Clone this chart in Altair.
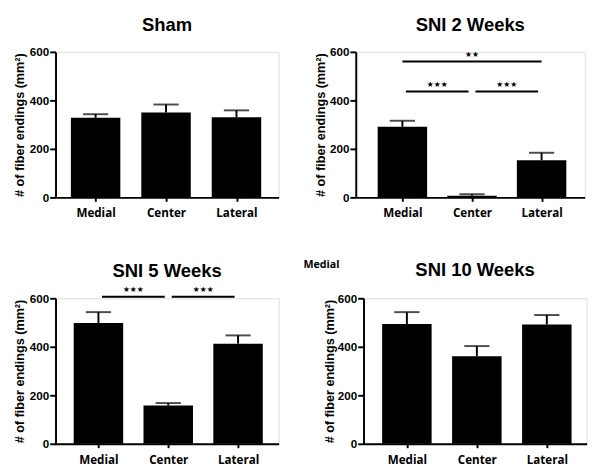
import json
import altair as alt
import pandas as pd

categories = ["Medial", "Center", "Lateral"]
panel_titles = ["Sham", "SNI 2 Weeks", "SNI 5 Weeks", "SNI 10 Weeks"]
y_title = "# of fiber endings (mm²)"
y_ticks = [0, 200, 400, 600]
stray_label = "Medial"

sham_mean = [328, 350, 330]
sham_sem = [15, 33, 29]
sni2_mean = [291, 7, 153]
sni2_sem = [25, 6, 31]
sni5_mean = [498, 158, 413]
sni5_sem = [45, 10, 34]
sni10_mean = [494, 361, 492]
sni10_sem = [49, 42, 39]

# significance comparisons (group index from / to, level, stars)
sni2_sig_from = [0, 0, 1]
sni2_sig_to = [2, 1, 2]
sni2_sig_level = [560, 437, 437]
sni2_sig_stars = ["★★", "★★★", "★★★"]
sni5_sig_from = [0, 1]
sni5_sig_to = [1, 2]
sni5_sig_level = [606, 606]
sni5_sig_stars = ["★★★", "★★★"]

LABEL_EXPR = json.dumps(categories) + "[datum.value]"
FONT = "Liberation Sans"


def panel(title, means, sems, width, dom, title_pad=2.5, title_offset=12, sig=None, stray=False):
    df = pd.DataFrame({
        "cat": categories,
        "idx": list(range(len(categories))),
        "mean": means,
        "top": [m + s for m, s in zip(means, sems)],
    })
    xs = alt.Scale(domain=dom, nice=False, zero=False)
    ys = alt.Scale(domain=[0, 600], nice=False)
    base = alt.Chart(df)
    bars = base.mark_bar(color="black", size=51).encode(
        x=alt.X("idx:Q", scale=xs, axis=alt.Axis(
            values=[0, 1, 2], labelExpr=LABEL_EXPR, title=None, grid=False,
            labelFont="Open Sans", labelFontWeight="bold", labelFontSize=12,
            labelColor="black", tickSize=4, tickWidth=2, tickColor="black",
            domainWidth=2, domainColor="black", labelPadding=7)),
        y=alt.Y("mean:Q", scale=ys, axis=alt.Axis(
            values=y_ticks, title=y_title, grid=False,
            labelFont=FONT, labelFontWeight="bold", labelFontSize=12,
            labelColor="black", tickSize=6, tickWidth=2, tickColor="black",
            domainWidth=2, domainColor="black", labelPadding=1,
            titleFont=FONT, titleFontSize=13, titleFontWeight="bold",
            titleColor="black", titlePadding=title_pad)),
    )
    whisk = base.mark_rule(color="black", strokeWidth=2).encode(
        x="idx:Q", y="mean:Q", y2="top:Q")
    caps = base.mark_tick(color="black", orient="horizontal", size=26, thickness=2).encode(
        x="idx:Q", y="top:Q")
    layers = [whisk, bars, caps]
    if sig is not None:
        f, t, lvl, stars = sig
        rows = []
        for a, b, l, s in zip(f, t, lvl, stars):
            x1, x2 = float(a), float(b)
            if b - a == 1:
                x1 += 0.05
                x2 -= 0.05
            rows.append({"x1": x1, "x2": x2, "xm": (x1 + x2) / 2, "lvl": l, "s": s})
        sdf = pd.DataFrame(rows)
        sb = alt.Chart(sdf)
        layers.append(sb.mark_rule(color="black", strokeWidth=2).encode(
            x="x1:Q", x2="x2:Q", y="lvl:Q"))
        layers.append(sb.mark_text(font="DejaVu Sans", fontSize=8, color="black", dy=-7).encode(
            x="xm:Q", y="lvl:Q", text="s:N"))
    if stray:
        layers.append(alt.Chart(pd.DataFrame({"t": [stray_label]})).mark_text(
            align="left", baseline="alphabetic", font="Open Sans", fontWeight="bold",
            fontSize=11, color="black").encode(
            x=alt.value(-62), y=alt.value(-31), text="t:N"))
    return alt.layer(*layers).properties(
        width=width, height=150,
        title=alt.TitleParams(title, font=FONT, fontSize=19, fontWeight="bold",
                              color="black", frame="group", offset=title_offset),
    )


p1 = panel(panel_titles[0], sham_mean, sham_sem, 230, [-0.5, 2.53])
p2 = panel(panel_titles[1], sni2_mean, sni2_sem, 236, [-0.6, 2.55],
           sig=(sni2_sig_from, sni2_sig_to, sni2_sig_level, sni2_sig_stars))
p3 = panel(panel_titles[2], sni5_mean, sni5_sem, 230, [-0.545, 2.512],
           title_offset=5,
           sig=(sni5_sig_from, sni5_sig_to, sni5_sig_level, sni5_sig_stars))
p4 = panel(panel_titles[3], sni10_mean, sni10_sem, 230, [-0.55, 2.5], title_pad=1,
           title_offset=-21, stray=True)

chart = alt.vconcat(
    alt.hconcat(p1, p2, spacing=34.5),
    alt.hconcat(p3, p4, spacing=23.5),
    spacing=40,
    padding={"top": 0, "left": 5, "right": 5, "bottom": 5},
).configure_view(stroke=None).configure(background="white")

chart.save("out.html", embed_options={"renderer": "svg", "actions": False})
